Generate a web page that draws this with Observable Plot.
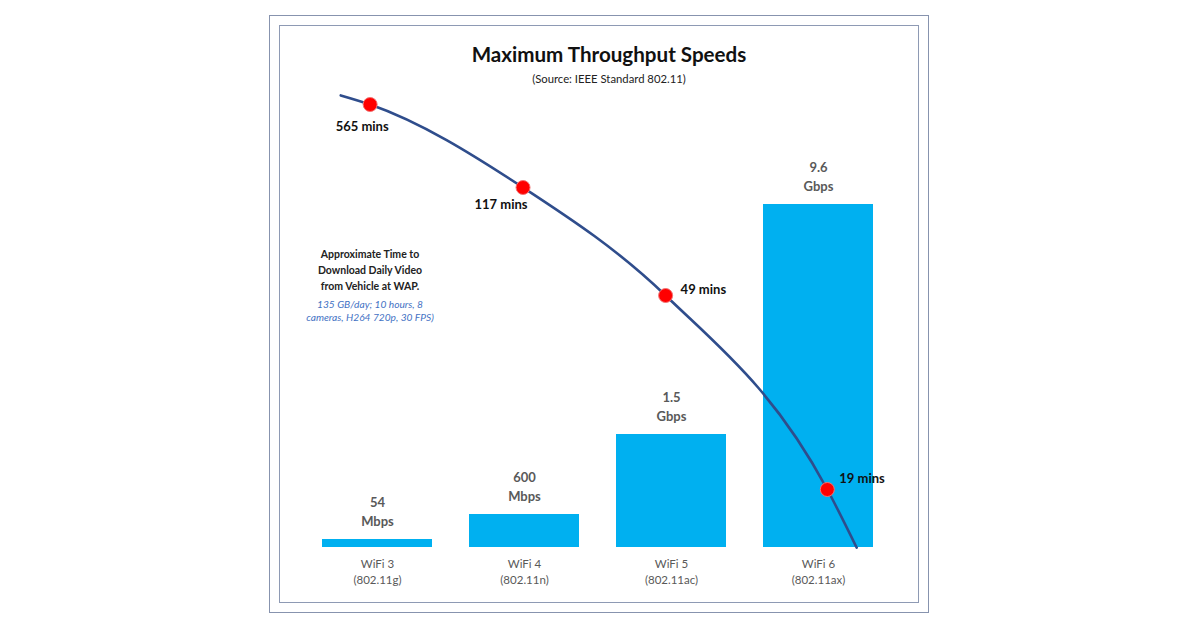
<!DOCTYPE html>
<html>
<head>
<meta charset="utf-8">
<script src="https://cdn.jsdelivr.net/npm/d3@7"></script>
<script src="https://cdn.jsdelivr.net/npm/@observablehq/plot@0.6"></script>
<style>
  html, body { margin: 0; padding: 0; background: #fff; }
  body { width: 1200px; height: 627px; position: relative; overflow: hidden; font-family: Lato, "Open Sans", sans-serif; }
  #outer { position: absolute; left: 269px; top: 15px; width: 658px; height: 596px; border: 1.5px solid #8793ae; box-sizing: content-box; }
  #inner { position: absolute; left: 279px; top: 25px; width: 638px; height: 576px; border: 1.5px solid #8e9ab4; }
  .layer { position: absolute; left: 0; top: 0; }
  #title { position: absolute; left: 409px; width: 400px; top: 42px; text-align: center; font-weight: bold; font-size: 20.6px; color: #111; }
  #subtitle { position: absolute; left: 409px; width: 400px; top: 72px; text-align: center; font-size: 11.3px; color: #222; }
  #note { position: absolute; left: 290px; width: 160px; top: 246px; text-align: center; font-weight: bold; font-size: 10.5px; line-height: 16px; color: #222; }
  #noteDetail { position: absolute; left: 290px; width: 160px; top: 298px; text-align: center; font-style: italic; font-size: 10.2px; line-height: 13px; color: #4472c4; }
</style>
</head>
<body>
<div id="outer"></div>
<div id="inner"></div>
<div id="title">Maximum Throughput Speeds</div>
<div id="subtitle">(Source: IEEE Standard 802.11)</div>
<div id="note">Approximate Time to<br>Download Daily Video<br>from Vehicle at WAP.</div>
<div id="noteDetail">135 GB/day; 10 hours, 8<br>cameras, H264 720p, 30 FPS)</div>
<div id="bars" class="layer"></div>
<div id="times" class="layer"></div>
<script>
// WiFi generations and their maximum throughput
const generations = ["WiFi 3", "WiFi 4", "WiFi 5", "WiFi 6"];
const standards = ["802.11g", "802.11n", "802.11ac", "802.11ax"];
const speedMbps = [54, 600, 1500, 9600];

// Approximate download time of one day of vehicle video, per generation
const downloadMins = [565, 117, 49, 19];
// horizontal placement of each time point, in generation steps (0 = WiFi 3)
const downloadPos = [-0.05, 0.99, 1.96, 3.06];
// the trend arc runs a little past the first and last time points
const arcStart = { pos: -0.25, mins: 614 };
const arcEnd = { pos: 3.26, mins: 10 };

const font = "Lato, 'Open Sans', sans-serif";
const standardOf = new Map(generations.map((g, i) => [g, standards[i]]));
const speedRows = generations.map((g, i) => ({ generation: g, mbps: speedMbps[i] }));
const speedLabel = v => v >= 1000 ? `${v / 1000}\nGbps` : `${v}\nMbps`;

const bars = Plot.plot({
  width: 1200,
  height: 627,
  marginLeft: 302.5,
  marginRight: 306.7,
  marginTop: 0,
  marginBottom: 80,
  style: { background: "transparent", fontFamily: font },
  x: { domain: generations, paddingInner: 0.25, paddingOuter: 0.125, axis: null },
  // stepped height scale so the small speeds stay visible
  y: { type: "linear", domain: [0, ...speedMbps], range: [547, 539, 514, 434, 204], axis: null },
  marks: [
    Plot.barY(speedRows, { x: "generation", y: "mbps", fill: "#00b0f0" }),
    Plot.text(speedRows, {
      x: "generation", y: "mbps", text: d => speedLabel(d.mbps),
      lineAnchor: "bottom", dy: -14, lineHeight: 1.45,
      fontSize: 13, fontWeight: "bold", fill: "#595959"
    }),
    Plot.axisX({
      tickSize: 0, tickPadding: 9, label: null,
      tickFormat: g => `${g}\n(${standardOf.get(g)})`,
      fontSize: 11.5, lineHeight: 1.4, color: "#595959"
    })
  ]
});
document.getElementById("bars").append(bars);

// place the time arc against the bar centres
const xs = bars.scale("x");
const centre = g => xs.apply(g) + xs.bandwidth / 2;

const timeRows = downloadMins.map((m, i) => ({ pos: downloadPos[i], mins: m }));
const arc = [arcStart, ...timeRows, arcEnd];

// label placement around each red dot
const labelPlacement = [
  { textAnchor: "middle", dx: -8, dy: 22 },
  { textAnchor: "middle", dx: -22, dy: 17 },
  { textAnchor: "start", dx: 15, dy: -6 },
  { textAnchor: "start", dx: 12, dy: -11 }
];

const times = Plot.plot({
  width: 1200,
  height: 627,
  margin: 0,
  style: { background: "transparent", fontFamily: font },
  x: { type: "linear", domain: [0, 3], range: [centre(generations[0]), centre(generations[3])], axis: null },
  y: { type: "linear", domain: [19, 49, 117, 565], range: [489, 295, 187, 104], axis: null },
  marks: [
    Plot.line(arc, { x: "pos", y: "mins", curve: "monotone-x", stroke: "#2f4d8c", strokeWidth: 2.6 }),
    Plot.dot(timeRows, { x: "pos", y: "mins", r: 7, fill: "#ff0000", stroke: "#f27474", strokeWidth: 1 }),
    ...timeRows.map((row, i) => Plot.text([row], {
      x: "pos", y: "mins", text: d => `${d.mins} mins`,
      fontSize: 13, fontWeight: "bold", fill: "#111",
      ...labelPlacement[i]
    }))
  ]
});
document.getElementById("times").append(times);
</script>
</body>
</html>
